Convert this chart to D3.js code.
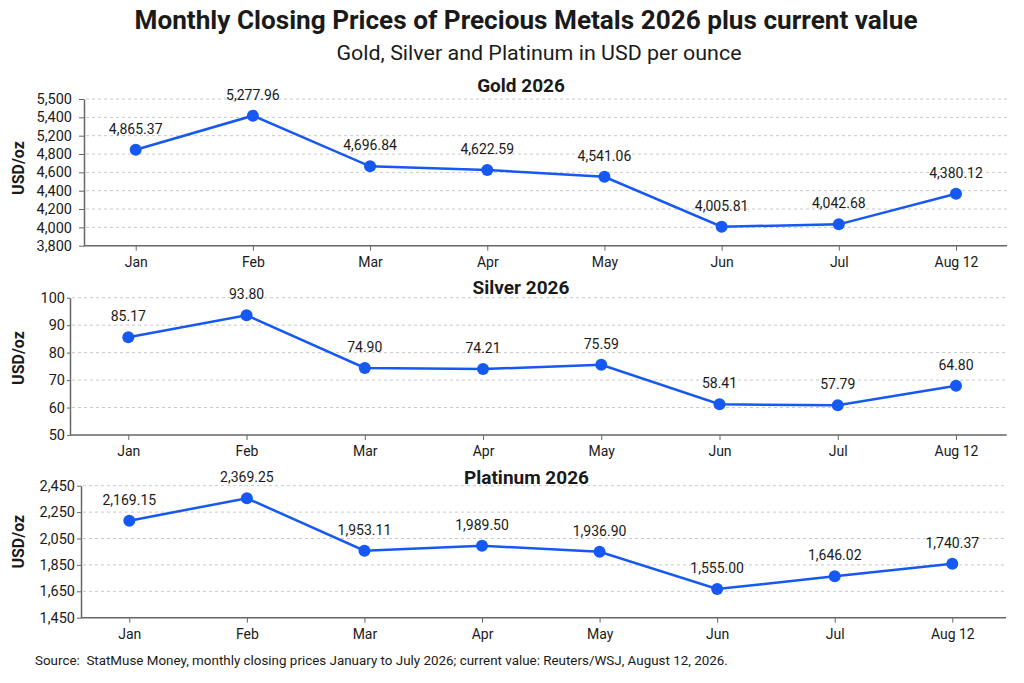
<!DOCTYPE html>
<html>
<head>
<meta charset="utf-8">
<script src="https://cdn.jsdelivr.net/npm/d3@7"></script>
<style>
  body { margin: 0; background: #fff; }
  text { font-family: Roboto, "Liberation Sans", sans-serif; fill: #1a1a1a; }
</style>
</head>
<body>
<svg id="chart" width="1024" height="683"></svg>
<script>
// months on the x axis
var months = ["Jan", "Feb", "Mar", "Apr", "May", "Jun", "Jul", "Aug 12"];

// plotted positions and the printed labels
var goldValues = [4894, 5409, 4666, 4626, 4552, 4007, 4033, 4367];
var goldLabels = ["4,865.37", "5,277.96", "4,696.84", "4,622.59", "4,541.06", "4,005.81", "4,042.68", "4,380.12"];
var goldTicks = [3800, 4000, 4200, 4400, 4600, 4800, 5200, 5400, 5500];

var silverValues = [85.6, 93.6, 74.4, 74.0, 75.6, 61.2, 60.8, 67.9];
var silverLabels = ["85.17", "93.80", "74.90", "74.21", "75.59", "58.41", "57.79", "64.80"];
var silverTicks = [50, 60, 70, 80, 90, 100];

var platValues = [2185, 2355, 1958, 1995, 1950, 1667, 1764, 1859];
var platLabels = ["2,169.15", "2,369.25", "1,953.11", "1,989.50", "1,936.90", "1,555.00", "1,646.02", "1,740.37"];
var platTicks = [1450, 1650, 1850, 2050, 2250, 2450];

var blue = "#1658f2";

var svg = d3.select("#chart");

svg.append("text")
    .attr("x", 526).attr("y", 28.5)
    .attr("text-anchor", "middle")
    .attr("textLength", 783).attr("lengthAdjust", "spacingAndGlyphs")
    .style("font-family", "'Liberation Sans Narrow', Roboto, sans-serif")
    .style("font-weight", "bold").style("font-size", "26px")
    .text("Monthly Closing Prices of Precious Metals 2026 plus current value");

svg.append("text")
    .attr("x", 539).attr("y", 60)
    .attr("text-anchor", "middle")
    .attr("textLength", 405).attr("lengthAdjust", "spacingAndGlyphs")
    .style("font-size", "20px")
    .text("Gold, Silver and Platinum in USD per ounce");

var panels = [
  {title: "Gold 2026", values: goldValues, labels: goldLabels, ticks: goldTicks,
   left: 84, right: 1007, bottom: 245.7, top: 99, x0: 135.7, x1: 956,
   titleX: 521, titleY: 92, ylabY: 168, tickSize: 5, tickPad: 7},
  {title: "Silver 2026", values: silverValues, labels: silverLabels, ticks: silverTicks,
   left: 70, right: 1006.7, bottom: 435, top: 297.7, x0: 128.3, x1: 956,
   titleX: 521, titleY: 293.5, ylabY: 358, tickSize: 3, tickPad: 2},
  {title: "Platinum 2026", values: platValues, labels: platLabels, ticks: platTicks,
   left: 81, right: 1006, bottom: 617.7, top: 485.7, x0: 129.3, x1: 952.3,
   titleX: 526.5, titleY: 483.5, ylabY: 541.7, tickSize: 4, tickPad: 2}
];

panels.forEach(function(p) {
  var g = svg.append("g");
  var n = p.ticks.length;

  // even spacing between the printed ticks
  var y = d3.scaleLinear()
      .domain(p.ticks)
      .range(p.ticks.map(function(d, i) { return p.bottom - i * (p.bottom - p.top) / (n - 1); }));

  var x = d3.scalePoint().domain(months).range([p.x0, p.x1]);

  // grid
  g.selectAll(".grid").data(p.ticks.slice(1)).join("line")
      .attr("class", "grid")
      .attr("x1", p.left + 2).attr("x2", p.right)
      .attr("y1", function(d) { return y(d); }).attr("y2", function(d) { return y(d); })
      .attr("stroke", "#c8c8c8").attr("stroke-width", 1)
      .attr("stroke-dasharray", "3,3");

  // y axis
  var yAxis = g.append("g")
      .attr("transform", "translate(" + p.left + ",0)")
      .call(d3.axisLeft(y).tickValues(p.ticks).tickFormat(d3.format(","))
            .tickSize(p.tickSize).tickPadding(p.tickPad).tickSizeOuter(0));
  yAxis.select(".domain").attr("stroke", "#666").attr("stroke-width", 1.5);
  yAxis.selectAll(".tick line").attr("stroke", "#666");
  yAxis.selectAll("text").style("font-size", "14.5px").attr("fill", "#1a1a1a");

  // x axis
  var xAxis = g.append("g")
      .attr("transform", "translate(0," + p.bottom + ")")
      .call(d3.axisBottom(x).tickSize(5).tickPadding(6));
  xAxis.select(".domain").remove();
  xAxis.selectAll(".tick line").attr("stroke", "#666");
  xAxis.selectAll("text").style("font-size", "14px").attr("fill", "#1a1a1a");
  g.append("line")
      .attr("x1", p.left).attr("x2", p.right)
      .attr("y1", p.bottom).attr("y2", p.bottom)
      .attr("stroke", "#666").attr("stroke-width", 1.5);

  // titles
  g.append("text")
      .attr("x", p.titleX).attr("y", p.titleY)
      .attr("text-anchor", "middle")
      .style("font-weight", "bold").style("font-size", "19px")
      .text(p.title);

  g.append("text")
      .attr("transform", "translate(24," + p.ylabY + ") rotate(-90)")
      .attr("text-anchor", "middle")
      .style("font-weight", "bold").style("font-size", "16px")
      .text("USD/oz");

  // line and points
  var line = d3.line()
      .x(function(d, i) { return x(months[i]); })
      .y(function(d) { return y(d); });

  g.append("path")
      .datum(p.values)
      .attr("d", line)
      .attr("fill", "none")
      .attr("stroke", blue)
      .attr("stroke-width", 2.5);

  g.selectAll("circle").data(p.values).join("circle")
      .attr("cx", function(d, i) { return x(months[i]); })
      .attr("cy", function(d) { return y(d); })
      .attr("r", 6)
      .attr("fill", blue);

  g.selectAll(".lbl").data(p.values).join("text")
      .attr("class", "lbl")
      .attr("x", function(d, i) { return x(months[i]); })
      .attr("y", function(d) { return y(d) - 16; })
      .attr("text-anchor", "middle")
      .style("font-size", "14px")
      .text(function(d, i) { return p.labels[i]; });
});

svg.append("text")
    .attr("x", 35).attr("y", 665)
    .style("font-size", "13.4px")
    .attr("xml:space", "preserve")
    .text("Source:  StatMuse Money, monthly closing prices January to July 2026; current value: Reuters/WSJ, August 12, 2026.");
</script>
</body>
</html>
